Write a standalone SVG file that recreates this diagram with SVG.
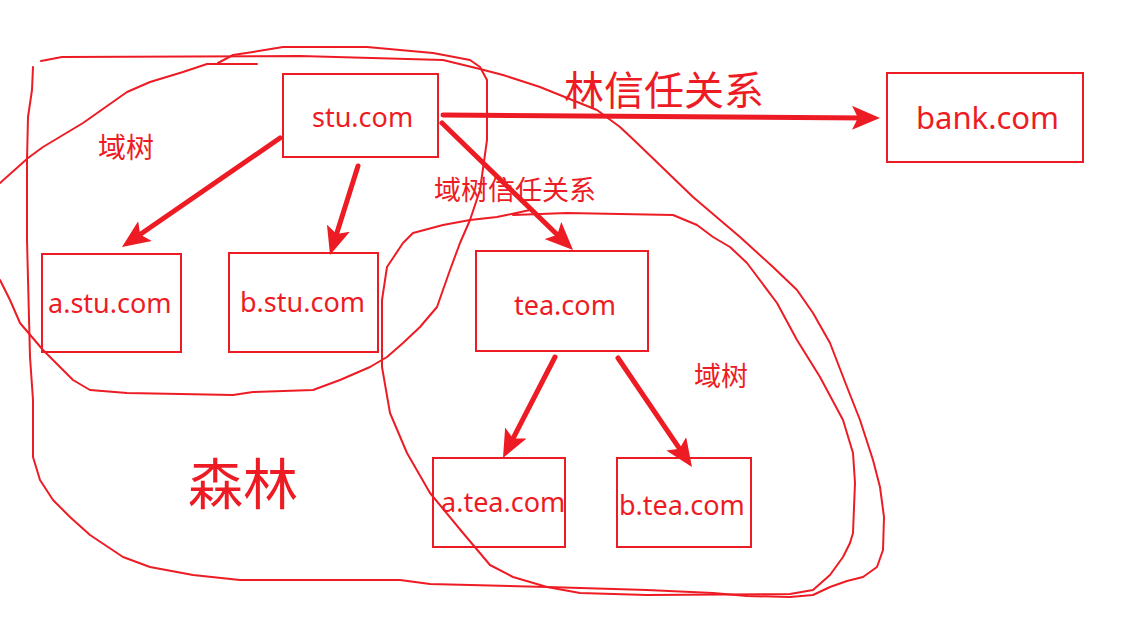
<svg xmlns="http://www.w3.org/2000/svg" width="1133" height="629" viewBox="0 0 1133 629">
<style>
.bg{fill:#ffffff}
.box{fill:none;stroke:#ED1C24;stroke-width:2}
.loop{fill:none;stroke:#ED1C24;stroke-width:2;stroke-linejoin:round;stroke-linecap:round}
.arr{fill:none;stroke:#ED1C24;stroke-width:5;stroke-linecap:round;marker-end:url(#ah)}
.lbl{fill:#ED1C24;font-family:"Noto Sans","Open Sans",sans-serif;font-size:27px}
.cjk{fill:#ED1C24;font-family:"Noto Sans CJK SC","Noto Sans",sans-serif}
</style>
<defs>
<marker id="ah" markerUnits="userSpaceOnUse" markerWidth="29" markerHeight="24" refX="14" refY="12" orient="auto">
<path d="M0,0 L28,12 L0,24 L6,12 Z" fill="#ED1C24"/>
</marker>
</defs>
<rect class="bg" x="0" y="0" width="1133" height="629"/>
<g id="outlines">
<path id="forest-outline" class="loop" d="M41,61 L62,57 L300,56 L443,60 L480,69 L503,75 L540,87 L597,110 L620,127 L637,143 L693,197 L740,237 L773,267 L797,290 L813,313 L830,343 L847,387 L860,420 L873,460 L880,487 L884,517 L883,550 L877,567 L863,577 L847,581 L830,587 L813,595 L790,597 L747,596 L713,593 L647,590 L547,587 L430,584 L400,580 L240,580 L193,575 L150,567 L123,557 L90,535 L70,517 L53,500 L40,480 L33,457 L33,400 L30,357 L27,240 L27,160 L28,117 L32,90 L33,67"/>
<path id="stu-tree-outline" class="loop" d="M0,183 L28,158 L43,147 L83,123 L127,92 L150,82 L183,72 L207,64 L257,64 M218,63 L233,55 L253,52 L283,47 L367,47 L433,53 L470,60 L480,67 L487,80 L487,107 L487,140 L480,190 L470,220 L460,243 L450,270 L437,307 L420,327 L403,343 L387,357 L370,367 L340,380 L313,390 L253,392 L233,395 L127,393 L90,390 L73,380 L43,350 L20,323 L10,300 L0,280"/>
<path id="tea-tree-outline" class="loop" d="M513,215 L567,213 L673,215 L697,225 L713,237 L730,247 L747,263 L777,303 L797,340 L820,377 L843,420 L853,453 L855,483 L853,533 L850,543 L843,557 L830,575 L813,590 L790,594 L647,595 L580,593 L547,587 L513,577 L490,565 L463,533 L430,493 L407,453 L390,413 L382,367 L382,300 L387,267 L403,243 L413,233 L443,225 L470,220 L497,217 L530,210"/>
</g>
<g id="connectors">
<line class="arr" x1="280" y1="138" x2="133.5" y2="239"/>
<line class="arr" x1="358" y1="166" x2="334.2" y2="241.6"/>
<line class="arr" x1="442" y1="123" x2="563" y2="240.3"/>
<line class="arr" x1="443" y1="115" x2="866" y2="117.9"/>
<line class="arr" x1="555" y1="357" x2="509.4" y2="445.5"/>
<line class="arr" x1="618" y1="358" x2="684.1" y2="455.4"/>
</g>
<g id="stu-com"><rect class="box" x="283" y="74" width="155" height="83"/><text class="lbl" x="312" y="127">stu.com</text></g>
<g id="a-stu-com"><rect class="box" x="42" y="254" width="139" height="98"/><text class="lbl" x="48" y="313">a.stu.com</text></g>
<g id="b-stu-com"><rect class="box" x="229" y="253" width="149" height="99"/><text class="lbl" x="240" y="312">b.stu.com</text></g>
<g id="tea-com"><rect class="box" x="476" y="251" width="172" height="100"/><text class="lbl" x="514" y="315">tea.com</text></g>
<g id="a-tea-com"><rect class="box" x="433" y="458" width="132" height="89"/><text class="lbl" x="441" y="512">a.tea.com</text></g>
<g id="b-tea-com"><rect class="box" x="617" y="458" width="134" height="89"/><text class="lbl" x="619" y="515">b.tea.com</text></g>
<g id="bank-com"><rect class="box" x="887" y="73" width="196" height="89"/><text class="lbl" x="916" y="129" style="font-size:31px">bank.com</text></g>
<g id="labels">
<text class="cjk" x="98" y="158" font-size="28">域树</text>
<text class="cjk" x="434" y="200" font-size="27">域树信任关系</text>
<text class="cjk" x="564" y="105" font-size="40">林信任关系</text>
<text class="cjk" x="188" y="504" font-size="55">森林</text>
<text class="cjk" x="694" y="386" font-size="27">域树</text>
</g>
</svg>
